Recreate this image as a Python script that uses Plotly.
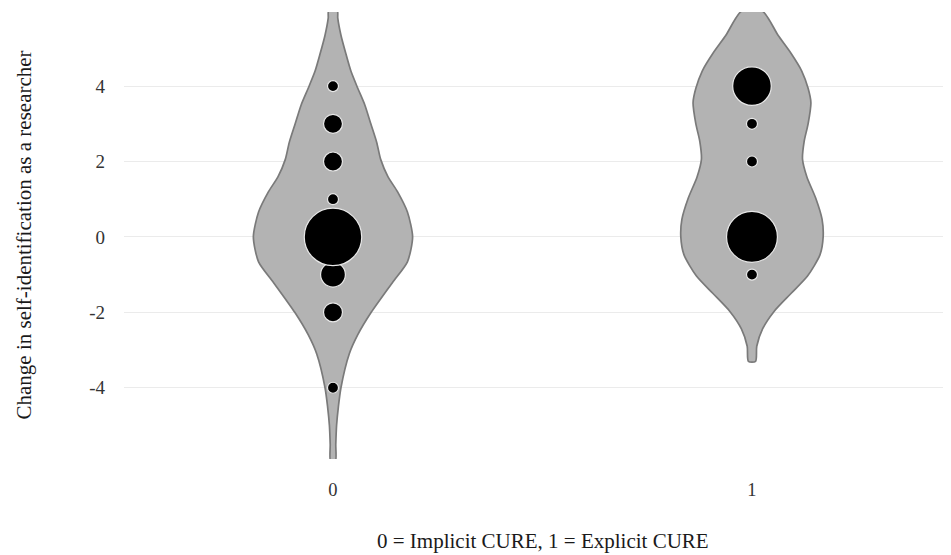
import numpy as np
import plotly.graph_objects as go

# ---- data ----
groups = [0, 1]
group_labels = ["0", "1"]

# counts of responses at each change value (bubble sizes)
vals0 = [-4, -2, -1, 0, 1, 2, 3, 4]
counts0 = [1, 2, 4, 35, 1, 2, 2, 1]
vals1 = [-1, 0, 2, 3, 4]
counts1 = [1, 26, 1, 1, 13]

# violin density profiles (relative density)
dens_y0 = [-5.95, -5.5, -5.0, -4.5, -4.0, -3.1, -2.6, -2.0, -1.2, -0.66, 0.0, 0.66, 1.2, 1.6,
           2.05, 2.5, 3.0, 3.5, 3.95, 4.4, 4.85, 5.35, 5.8, 6.0]
dens0 = [0.03, 0.035, 0.045, 0.068, 0.10, 0.205, 0.31, 0.48, 0.75, 0.935, 1.0, 0.935, 0.81, 0.69,
         0.60, 0.55, 0.475, 0.40, 0.31, 0.225, 0.163, 0.10, 0.06, 0.054]
dens_y1 = [-3.30, -2.9, -2.44, -1.97, -1.5, -1.03, -0.47, 0.0, 0.47, 1.03, 1.59,
           2.06, 2.53, 3.0, 3.56, 3.94, 4.4, 4.87, 5.34, 5.99]
dens1 = [0.045, 0.06, 0.133, 0.28, 0.49, 0.70, 0.855, 0.894, 0.88, 0.80, 0.69,
         0.635, 0.655, 0.705, 0.74, 0.705, 0.625, 0.49, 0.33, 0.13]

yticks = [-4, -2, 0, 2, 4]
x_title = "0 = Implicit CURE, 1 = Explicit CURE"
y_title = "Change in self-identification as a researcher"

# ---- styling ----
HALF_W = 0.19           # max half-width of a violin in x units
FILL = "#b3b3b3"
EDGE = "#7a7a7a"
FONT = "Liberation Serif"

fig = go.Figure()


def violin_path(center, ys, ds):
    ys = np.asarray(ys, float)
    ds = np.asarray(ds, float) * HALF_W
    x = np.concatenate([center + ds, (center - ds)[::-1], [center + ds[0]]])
    y = np.concatenate([ys, ys[::-1], [ys[0]]])
    return x, y


for g, ys, ds in [(groups[0], dens_y0, dens0), (groups[1], dens_y1, dens1)]:
    vx, vy = violin_path(g, ys, ds)
    fig.add_trace(go.Scatter(
        x=vx, y=vy, mode="lines", fill="toself", fillcolor=FILL,
        line=dict(color=EDGE, width=1.7, shape="spline", smoothing=0.7),
        hoverinfo="skip", showlegend=False))


def bubble_size(c):
    c = np.asarray(c, float)
    nmin, nmax = 1.0, float(max(max(counts0), max(counts1)))
    return 11.0 + 46.5 * np.sqrt((c - nmin) / (nmax - nmin))


for g, v, c in [(groups[0], vals0, counts0), (groups[1], vals1, counts1)]:
    fig.add_trace(go.Scatter(
        x=[g] * len(v), y=v, mode="markers",
        marker=dict(color="#000000", opacity=1, size=bubble_size(c),
                    line=dict(color="#e8e8e8", width=1.2)),
        showlegend=False, hoverinfo="skip"))

fig.update_layout(
    width=943, height=547,
    margin=dict(l=116, r=0, t=4, b=96),
    paper_bgcolor="white", plot_bgcolor="white",
    font=dict(family=FONT, color="#1a1a1a"),
    showlegend=False,
    annotations=[
        dict(text=x_title, xref="paper", yref="paper", x=0.5, y=0,
             xanchor="center", yanchor="middle", xshift=5, yshift=-82,
             showarrow=False, font=dict(size=21, family=FONT, color="#1a1a1a")),
        dict(text=y_title, xref="paper", yref="paper", x=0, y=0.5,
             xanchor="center", yanchor="middle", xshift=-101, textangle=-90,
             showarrow=False, font=dict(size=21, family=FONT, color="#1a1a1a")),
    ],
)
fig.update_xaxes(
    range=[-0.4988, 1.475], tickvals=groups, ticktext=group_labels,
    showgrid=False, zeroline=False, showline=False,
    tickfont=dict(size=18.5, color="#333333", family=FONT),
    ticks="", ticklabelstandoff=17,
)
fig.update_yaxes(
    range=[-5.89, 5.965], tickvals=yticks, ticktext=[str(t) for t in yticks],
    showgrid=True, gridcolor="#ebebeb", gridwidth=1.3,
    zeroline=False, showline=False,
    tickfont=dict(size=19, color="#333333", family=FONT),
    ticks="", ticklabelstandoff=18,
)

fig.write_html("out.html")
